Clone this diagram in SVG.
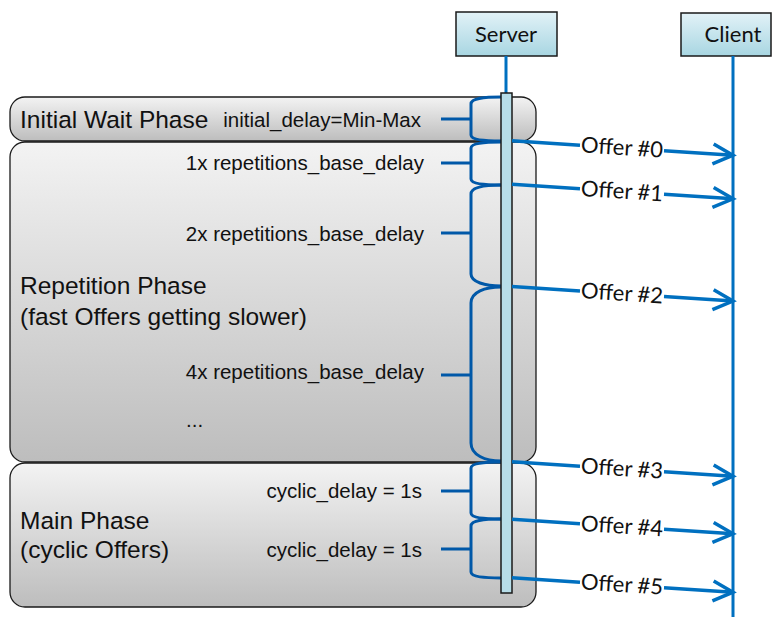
<svg xmlns="http://www.w3.org/2000/svg" width="772" height="617" viewBox="0 0 772 617">
<style>
.phase{stroke:#1a1a1a;stroke-width:1.3;fill:url(#boxGrad)}
.head{stroke:#1a1a1a;stroke-width:1.5;fill:url(#headGrad)}
.big{font-family:"Liberation Sans",Arial,sans-serif;font-size:24.5px;fill:#111}
.small{font-family:"Liberation Sans",Arial,sans-serif;font-size:20.5px;fill:#111}
.cal{font-family:Lato,"Open Sans",sans-serif;font-size:22px;fill:#111}
.brace{fill:none;stroke:#0058A8;stroke-width:3}
.life{fill:none;stroke:#0070C0;stroke-width:3}
.offer{fill:none;stroke:#0070C0;stroke-width:3.5;marker-end:url(#arr)}
</style>
<defs>
<linearGradient id="boxGrad" x1="0" y1="0" x2="0" y2="1">
<stop offset="0" stop-color="#F3F3F3"/>
<stop offset="1" stop-color="#BDBDBD"/>
</linearGradient>
<linearGradient id="headGrad" x1="0" y1="0" x2="0" y2="1">
<stop offset="0" stop-color="#E2F2F7"/>
<stop offset="1" stop-color="#A8D6E2"/>
</linearGradient>
<marker id="arr" markerUnits="userSpaceOnUse" viewBox="-24 -14 28 28" markerWidth="28" markerHeight="28" refX="0" refY="0" orient="auto" overflow="visible">
<path d="M-20,-10 L0,0 L-20,10" fill="none" stroke="#0070C0" stroke-width="3.5"/>
</marker>
</defs>

<g id="initial-wait-phase">
<rect class="phase" x="10" y="97" width="526" height="44" rx="15"/>
<text class="big" x="20" y="128">Initial Wait Phase</text>
<text class="small" x="421" y="127" text-anchor="end">initial_delay=Min-Max</text>
</g>
<g id="repetition-phase">
<rect class="phase" x="10" y="142" width="526" height="320" rx="15"/>
<text class="small" x="424" y="170" text-anchor="end">1x repetitions_base_delay</text>
<text class="small" x="424" y="241" text-anchor="end">2x repetitions_base_delay</text>
<text class="big" x="20" y="294">Repetition Phase</text>
<text class="big" x="20" y="325">(fast Offers getting slower)</text>
<text class="small" x="424" y="379" text-anchor="end">4x repetitions_base_delay</text>
<text class="small" x="186" y="427">...</text>
</g>
<g id="main-phase">
<rect class="phase" x="10" y="463" width="526" height="144" rx="15"/>
<text class="small" x="422" y="498" text-anchor="end">cyclic_delay = 1s</text>
<text class="small" x="422" y="557" text-anchor="end">cyclic_delay = 1s</text>
<text class="big" x="20" y="529">Main Phase</text>
<text class="big" x="20" y="558">(cyclic Offers)</text>
</g>

<g id="braces">
<path class="brace" d="M501,97 C485,97 471,98 471,104 L471,135 C471,140 485,141 501,141 M441,119 L471,119"/>
<path class="brace" d="M501,142 C485,142 471,143 471,148 L471,179 C471,184 485,185 501,185 M441,163 L471,163"/>
<path class="brace" d="M501,185 C485,185 471,187 471,194 L471,274 C471,282 485,286 501,286 M441,233 L471,233"/>
<path class="brace" d="M501,287 C485,287 471,292 471,303 L471,443 C471,455 485,461 501,461 M441,375 L471,375"/>
<path class="brace" d="M501,462 C485,462 471,463 471,468 L471,513 C471,518 485,519 501,519 M441,491 L471,491"/>
<path class="brace" d="M501,519 C485,519 471,520 471,526 L471,572 C471,577 485,578 501,578 M441,549 L471,549"/>
</g>

<g id="server">
<rect class="head" x="456" y="12" width="101" height="44"/>
<text class="cal" x="506" y="42" text-anchor="middle">Server</text>
<line class="life" x1="506" y1="56" x2="506" y2="94"/>
<rect x="501" y="93" width="11" height="500" fill="#B7DDE8" stroke="#1a1a1a" stroke-width="1.5"/>
</g>
<g id="client">
<rect class="head" x="681" y="13" width="90" height="43"/>
<text class="cal" x="733" y="42" text-anchor="middle">Client</text>
<line class="life" x1="733" y1="56" x2="733" y2="617"/>
</g>

<g id="connectors">
<path class="offer" d="M512,140.7 L580,145.2 M664,150.7 L733,155.2"/>
<text class="cal" x="622" y="155" text-anchor="middle" transform="rotate(3.75 622 148)">Offer #0</text>
<path class="offer" d="M512,184.3 L580,188.8 M664,194.3 L733,198.8"/>
<text class="cal" x="622" y="198.6" text-anchor="middle" transform="rotate(3.75 622 191.6)">Offer #1</text>
<path class="offer" d="M512,286.5 L580,291 M664,296.5 L733,301"/>
<text class="cal" x="622" y="300.8" text-anchor="middle" transform="rotate(3.75 622 293.8)">Offer #2</text>
<path class="offer" d="M512,461.7 L580,466.2 M664,471.7 L733,476.2"/>
<text class="cal" x="622" y="476" text-anchor="middle" transform="rotate(3.75 622 469)">Offer #3</text>
<path class="offer" d="M512,519.3 L580,523.8 M664,529.3 L733,533.8"/>
<text class="cal" x="622" y="533.6" text-anchor="middle" transform="rotate(3.75 622 526.6)">Offer #4</text>
<path class="offer" d="M512,577.7 L580,582.2 M664,587.7 L733,592.2"/>
<text class="cal" x="622" y="592" text-anchor="middle" transform="rotate(3.75 622 585)">Offer #5</text>
</g>
</svg>
